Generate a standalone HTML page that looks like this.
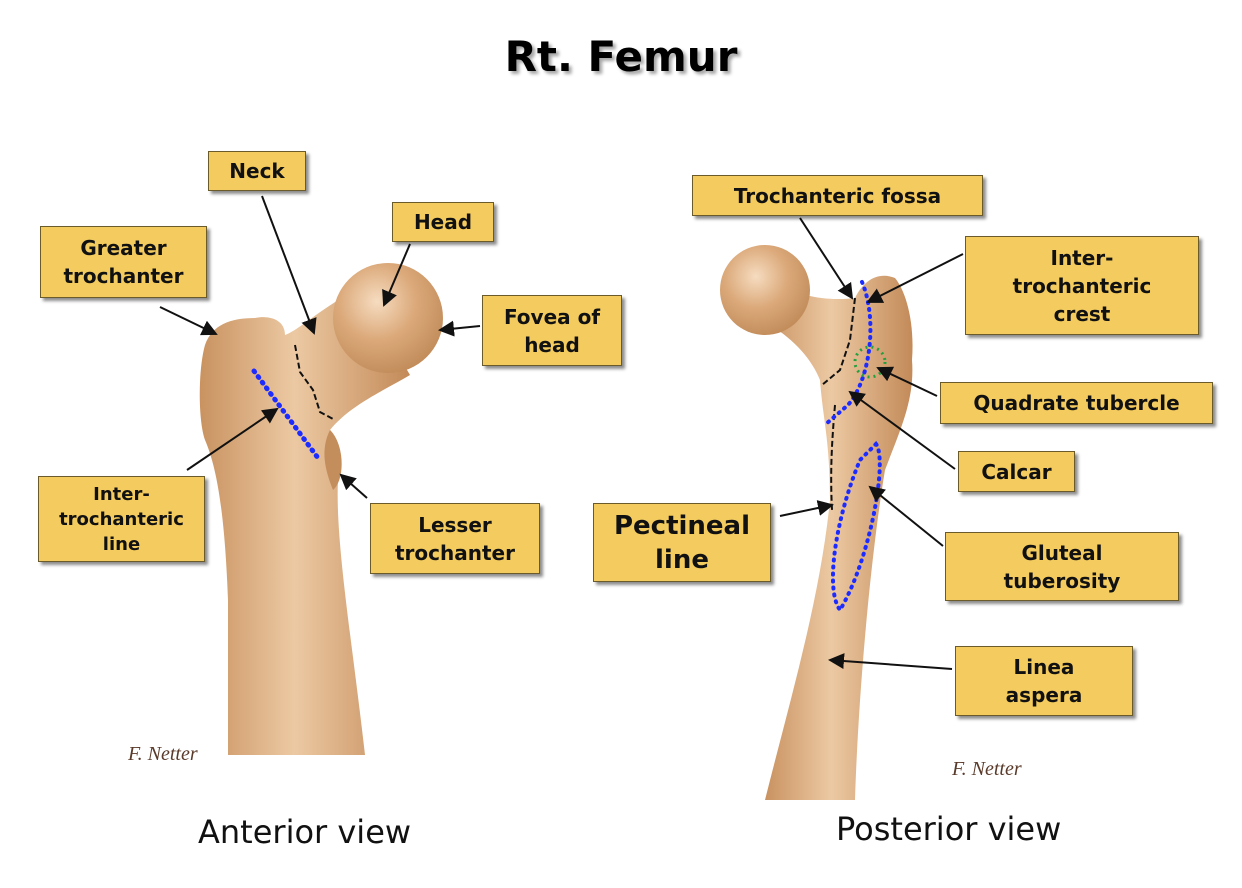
<!DOCTYPE html>
<html><head><meta charset="utf-8"><style>
html,body{margin:0;padding:0;background:#fff;}
body{width:1242px;height:888px;overflow:hidden;position:relative;font-family:"DejaVu Sans","Liberation Sans",sans-serif;}
.b{position:absolute;background:#F4CB5E;border:1.5px solid #6b5a2a;box-shadow:3px 3px 3px rgba(0,0,0,0.45);display:flex;align-items:center;justify-content:center;text-align:center;font-weight:bold;font-size:20px;line-height:28px;color:#111;box-sizing:border-box;}
.t{position:absolute;font-weight:bold;font-size:42px;left:0;width:1242px;text-align:center;top:32px;text-shadow:3px 3px 3px rgba(0,0,0,0.35);}
.c{position:absolute;font-size:32px;color:#111;}
</style></head><body>
<svg width="1242" height="888" style="position:absolute;left:0;top:0">
<defs>
<radialGradient id="hg" cx="0.4" cy="0.35" r="0.7"><stop offset="0" stop-color="#f6dcc0"/><stop offset="0.5" stop-color="#dba97a"/><stop offset="1" stop-color="#c08a58"/></radialGradient>
<linearGradient id="sg" x1="0" x2="1"><stop offset="0" stop-color="#c99260"/><stop offset="0.45" stop-color="#ecc9a3"/><stop offset="1" stop-color="#c38a58"/></linearGradient>
<marker id="a" markerWidth="8" markerHeight="8" refX="7" refY="4" orient="auto"><path d="M0,0 L8,4 L0,8 z" fill="#111"/></marker>
</defs>
<path d="M228,755 L365,755 C352,640 335,540 338,480 C342,455 340,440 330,430 C350,405 385,390 410,375 L360,290 C330,300 300,330 285,335 C285,320 270,315 255,318 C230,318 212,325 205,345 C198,370 198,420 205,440 C218,470 225,520 228,600 Z" fill="url(#sg)"/>
<circle cx="388" cy="318" r="55" fill="url(#hg)"/>
<path d="M330,430 C345,445 345,480 333,490 C325,470 320,450 330,430Z" fill="#c48d5c"/>
<path d="M295,345 L300,372 L313,390 L320,412 L335,420" stroke="#111" stroke-width="2" stroke-dasharray="6,3" fill="none"/>
<line x1="254" y1="371" x2="318" y2="458" stroke="#1c2bff" stroke-width="5" stroke-dasharray="1,6" stroke-linecap="round"/>
<path d="M765,800 L855,800 C858,700 870,560 885,470 C900,430 915,400 912,360 C915,320 905,290 895,278 C880,272 865,278 855,298 C840,300 815,300 790,290 L770,325 C795,340 812,360 820,380 C823,420 830,440 830,500 C820,600 790,700 765,800Z" fill="url(#sg)"/>
<circle cx="765" cy="290" r="45" fill="url(#hg)"/>
<path d="M855,298 L850,340 L840,370 L822,385" stroke="#111" stroke-width="2" stroke-dasharray="6,3" fill="none"/>
<path d="M835,405 C832,440 830,470 832,510" stroke="#111" stroke-width="2" stroke-dasharray="6,3" fill="none"/>
<path d="M862,282 C878,320 870,380 848,405 L826,424" stroke="#1c2bff" stroke-width="4" stroke-dasharray="1,6" stroke-linecap="round" fill="none"/>
<circle cx="870" cy="362" r="15" stroke="#22a040" stroke-width="3" stroke-dasharray="2,4" fill="none"/>
<path d="M876,444 C888,460 870,560 840,610 C825,590 835,520 860,460 Z" stroke="#1c2bff" stroke-width="4" stroke-dasharray="1,6" stroke-linecap="round" fill="none"/>
<g stroke="#111" stroke-width="2" fill="none" marker-end="url(#a)">
<line x1="262" y1="196" x2="314" y2="333"/>
<line x1="410" y1="244" x2="384" y2="305"/>
<line x1="160" y1="307" x2="216" y2="334"/>
<line x1="480" y1="326" x2="440" y2="330"/>
<line x1="187" y1="470" x2="277" y2="409"/>
<line x1="367" y1="498" x2="341" y2="475"/>
<line x1="800" y1="218" x2="852" y2="298"/>
<line x1="963" y1="254" x2="868" y2="302"/>
<line x1="937" y1="396" x2="878" y2="368"/>
<line x1="955" y1="469" x2="850" y2="392"/>
<line x1="780" y1="516" x2="832" y2="505"/>
<line x1="943" y1="546" x2="870" y2="487"/>
<line x1="952" y1="669" x2="830" y2="660"/>
</g>
<text x="128" y="760" font-family="Liberation Serif" font-style="italic" font-size="20" fill="#5a3a2a">F. Netter</text>
<text x="952" y="775" font-family="Liberation Serif" font-style="italic" font-size="20" fill="#5a3a2a">F. Netter</text>
</svg>
<div class="t">Rt. Femur</div>
<div class="b" style="left:208px;top:151px;width:98px;height:40px">Neck</div>
<div class="b" style="left:392px;top:202px;width:102px;height:40px">Head</div>
<div class="b" style="left:40px;top:226px;width:167px;height:72px">Greater<br>trochanter</div>
<div class="b" style="left:482px;top:295px;width:140px;height:71px">Fovea of<br>head</div>
<div class="b" style="left:38px;top:476px;width:167px;height:86px;font-size:18px;line-height:25px">Inter-<br>trochanteric<br>line</div>
<div class="b" style="left:370px;top:503px;width:170px;height:71px">Lesser<br>trochanter</div>
<div class="b" style="left:692px;top:175px;width:291px;height:41px">Trochanteric fossa</div>
<div class="b" style="left:965px;top:236px;width:234px;height:99px">Inter-<br>trochanteric<br>crest</div>
<div class="b" style="left:940px;top:382px;width:273px;height:42px">Quadrate tubercle</div>
<div class="b" style="left:958px;top:451px;width:117px;height:41px">Calcar</div>
<div class="b" style="left:593px;top:503px;width:178px;height:79px;font-size:26px;line-height:34px">Pectineal<br>line</div>
<div class="b" style="left:945px;top:532px;width:234px;height:69px">Gluteal<br>tuberosity</div>
<div class="b" style="left:955px;top:646px;width:178px;height:70px">Linea<br>aspera</div>
<div class="c" style="left:198px;top:813px">Anterior view</div>
<div class="c" style="left:836px;top:810px">Posterior view</div>
</body></html>
